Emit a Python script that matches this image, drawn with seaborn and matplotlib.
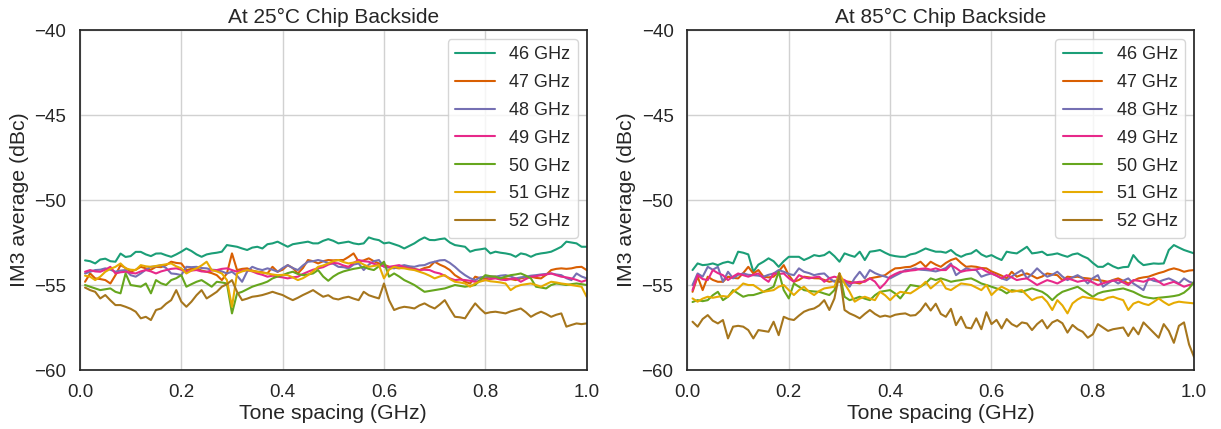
# IM3 average vs tone spacing, chip backside at 25 C and 85 C
import numpy as np
import pandas as pd
import matplotlib.pyplot as plt
import seaborn as sns

# tone spacing axis (GHz), 100 points
tone_spacing = np.round(np.arange(1, 101) * 0.01, 2)
freq_labels = ["46 GHz", "47 GHz", "48 GHz", "49 GHz", "50 GHz", "51 GHz", "52 GHz"]

# ---- 25 C ----
t25_46 = [-53.55, -53.6, -53.73, -53.5, -53.45, -53.6, -53.63, -53.15, -53.35, -53.3,
          -53.05, -53.05, -53.2, -53.3, -53.15, -53.14, -53.25, -53.34, -53.2, -53.04,
          -52.85, -53.0, -53.2, -53.34, -53.2, -53.14, -53.1, -53.04, -52.65, -52.7,
          -52.75, -52.85, -52.94, -52.8, -52.75, -52.85, -52.6, -52.55, -52.45, -52.6,
          -52.75, -52.6, -52.55, -52.5, -52.45, -52.55, -52.55, -52.4, -52.3, -52.4,
          -52.55, -52.5, -52.45, -52.55, -52.6, -52.55, -52.2, -52.3, -52.36, -52.55,
          -52.5, -52.6, -52.7, -52.85, -52.7, -52.55, -52.35, -52.2, -52.35, -52.36,
          -52.3, -52.26, -52.5, -52.65, -52.7, -52.75, -53.04, -52.94, -52.9, -52.85,
          -53.14, -53.04, -53.1, -53.14, -53.2, -53.34, -53.14, -53.2, -53.34, -53.2,
          -53.14, -53.1, -53.04, -52.9, -52.75, -52.45, -52.5, -52.55, -52.75, -52.75]
t25_47 = [-54.81, -54.32, -54.61, -54.65, -54.71, -54.91, -54.42, -53.83, -54.0, -54.22,
          -54.1, -53.93, -54.02, -54.1, -53.93, -53.95, -53.83, -53.63, -53.7, -53.73,
          -54.12, -54.05, -54.02, -54.15, -54.22, -54.3, -54.42, -54.71, -54.32, -53.14,
          -54.12, -54.05, -54.02, -54.15, -54.22, -54.25, -54.32, -53.93, -54.22, -54.1,
          -53.83, -54.0, -54.32, -54.0, -53.53, -53.6, -53.73, -53.6, -53.53, -53.55,
          -53.53, -53.53, -53.35, -53.14, -53.63, -53.55, -53.43, -53.6, -53.73, -53.8,
          -53.93, -53.98, -54.02, -53.95, -53.93, -54.05, -54.12, -54.0, -53.93, -53.63,
          -53.8, -53.93, -54.12, -54.42, -54.6, -54.81, -54.91, -54.51, -54.6, -54.61,
          -54.55, -54.51, -54.6, -54.61, -54.65, -54.71, -54.61, -54.55, -54.51, -54.58,
          -54.61, -54.4, -54.12, -54.05, -54.02, -54.05, -54.02, -53.95, -53.93, -54.12]
t25_48 = [-54.32, -54.22, -54.12, -54.1, -54.02, -54.1, -54.22, -54.15, -54.12, -54.42,
          -54.51, -54.32, -54.1, -53.93, -53.9, -53.83, -54.0, -54.32, -54.35, -54.42,
          -53.93, -53.95, -53.93, -54.0, -54.02, -54.1, -54.12, -54.2, -54.32, -54.22,
          -54.45, -54.81, -54.2, -53.93, -54.05, -54.12, -54.02, -54.1, -54.22, -54.0,
          -53.83, -54.0, -54.12, -53.85, -53.63, -53.6, -53.53, -53.6, -53.7, -53.75,
          -53.93, -53.95, -54.02, -53.8, -53.73, -54.12, -53.8, -53.6, -53.53, -53.93,
          -53.98, -54.02, -53.9, -53.83, -53.9, -53.93, -53.85, -53.83, -53.7, -53.63,
          -53.55, -53.53, -53.7, -53.93, -54.2, -54.42, -54.6, -54.71, -54.55, -54.51,
          -54.5, -54.51, -54.45, -54.42, -54.5, -54.61, -54.55, -54.51, -54.45, -54.42,
          -54.38, -54.35, -54.32, -54.38, -54.42, -54.6, -54.71, -54.32, -54.5, -54.61]
t25_49 = [-54.22, -54.12, -54.2, -54.22, -54.1, -53.93, -54.32, -54.25, -54.22, -54.28,
          -54.32, -54.2, -54.12, -54.2, -54.32, -54.2, -54.12, -54.05, -54.02, -54.1,
          -54.22, -54.15, -54.12, -54.2, -54.22, -54.15, -54.12, -54.05, -54.02, -54.12,
          -54.22, -54.15, -54.12, -54.2, -54.32, -54.4, -54.51, -54.45, -54.51, -54.55,
          -54.61, -54.55, -54.51, -54.35, -54.22, -54.1, -54.02, -53.95, -53.8, -53.7,
          -53.73, -53.85, -53.93, -53.7, -53.53, -53.6, -53.63, -53.75, -53.83, -53.9,
          -53.93, -53.88, -53.83, -53.95, -54.02, -54.08, -54.12, -54.1, -54.12, -54.25,
          -54.32, -54.45, -54.61, -54.71, -54.68, -54.71, -54.75, -54.81, -54.75, -54.71,
          -54.65, -54.61, -54.68, -54.71, -54.65, -54.61, -54.81, -54.65, -54.51, -54.48,
          -54.42, -54.38, -54.32, -54.42, -54.51, -54.55, -54.61, -54.7, -54.81, -54.71]
t25_50 = [-55.0, -55.1, -55.2, -55.3, -55.25, -55.2, -55.4, -55.49, -54.32, -55.0,
          -55.05, -55.1, -54.91, -55.49, -54.71, -54.9, -55.0, -54.71, -54.6, -54.42,
          -55.1, -54.95, -54.81, -54.71, -54.9, -55.1, -54.81, -54.85, -54.91, -56.67,
          -55.5, -55.4, -55.25, -55.1, -55.0, -54.91, -54.8, -54.61, -54.5, -54.42,
          -54.3, -54.22, -54.35, -54.42, -54.38, -54.32, -54.12, -54.5, -54.75, -54.5,
          -54.32, -54.2, -54.12, -54.05, -54.0, -53.93, -54.05, -54.12, -53.9, -53.63,
          -54.51, -54.32, -54.5, -54.71, -54.85, -55.0, -55.2, -55.4, -55.35, -55.3,
          -55.25, -55.2, -55.1, -55.0, -55.05, -55.1, -55.05, -55.0, -54.7, -54.42,
          -54.48, -54.51, -54.61, -54.5, -54.42, -54.38, -54.32, -54.45, -54.61, -55.1,
          -55.15, -55.2, -55.0, -54.91, -54.95, -55.0, -54.95, -54.91, -54.95, -55.0]
t25_51 = [-54.45, -54.51, -54.71, -54.51, -54.22, -54.05, -53.93, -53.73, -54.02, -54.1,
          -54.12, -53.83, -53.9, -53.93, -53.88, -53.83, -53.78, -53.73, -53.9, -54.02,
          -54.32, -54.15, -54.02, -53.85, -53.63, -54.12, -54.2, -54.32, -54.71, -56.28,
          -54.32, -54.2, -54.12, -54.18, -54.22, -54.28, -54.32, -54.38, -54.42, -54.4,
          -54.42, -54.55, -54.71, -54.6, -54.42, -54.2, -53.93, -53.85, -53.73, -53.6,
          -53.53, -53.65, -53.73, -53.68, -53.63, -53.8, -53.93, -53.88, -53.83, -54.61,
          -54.1, -53.93, -54.0, -54.02, -54.08, -54.12, -54.22, -54.32, -54.45, -54.61,
          -54.5, -54.42, -54.65, -54.81, -54.85, -54.91, -55.1, -54.91, -54.8, -54.71,
          -54.78, -54.81, -54.85, -54.91, -55.3, -55.1, -55.0, -54.95, -54.91, -55.0,
          -55.1, -54.95, -54.81, -54.85, -54.91, -54.95, -55.0, -55.05, -55.1, -55.69]
t25_52 = [-55.15, -55.3, -55.4, -55.79, -55.59, -55.9, -56.18, -56.18, -56.28, -56.4,
          -56.57, -56.96, -56.87, -57.06, -56.47, -56.38, -56.1, -55.89, -55.3, -55.98,
          -56.28, -55.98, -55.6, -55.3, -55.79, -55.6, -55.4, -55.1, -54.95, -54.71,
          -55.4, -55.89, -55.8, -55.69, -55.65, -55.59, -55.5, -55.4, -55.5, -55.59,
          -55.75, -55.89, -55.75, -55.59, -55.45, -55.3, -55.5, -55.69, -55.6, -55.79,
          -55.85, -55.75, -55.69, -55.8, -55.89, -55.4, -55.6, -55.7, -55.79, -54.91,
          -55.89, -56.47, -56.35, -56.28, -56.32, -56.38, -56.2, -56.08, -56.25, -56.38,
          -56.15, -55.89, -56.4, -56.87, -56.9, -56.96, -56.5, -56.08, -56.4, -56.67,
          -56.6, -56.57, -56.62, -56.67, -56.55, -56.47, -56.38, -56.6, -56.87, -56.7,
          -56.57, -56.7, -56.87, -56.75, -56.67, -57.45, -57.35, -57.26, -57.3, -57.26]

# ---- 85 C ----
t85_46 = [-54.12, -53.73, -53.83, -53.8, -53.73, -53.83, -53.7, -53.63, -53.73, -53.04,
          -53.1, -53.2, -54.22, -53.8, -53.63, -53.43, -53.6, -53.93, -53.6, -53.34,
          -53.34, -53.34, -53.53, -53.4, -53.24, -53.3, -53.24, -53.04, -53.3, -53.63,
          -53.14, -53.25, -53.34, -53.04, -53.53, -53.04, -53.0, -52.94, -53.1, -53.24,
          -53.3, -53.34, -53.34, -53.2, -53.14, -53.0, -52.85, -52.95, -53.04, -53.04,
          -53.1, -52.94, -53.2, -53.34, -53.2, -53.14, -52.94, -53.2, -53.34, -53.24,
          -53.4, -53.53, -53.04, -53.1, -53.14, -52.95, -52.75, -53.14, -53.1, -53.04,
          -53.24, -53.2, -53.14, -53.25, -53.34, -53.2, -53.14, -53.3, -53.43, -53.7,
          -53.93, -53.93, -53.73, -53.9, -54.02, -53.95, -53.93, -53.24, -53.6, -53.83,
          -53.78, -53.73, -53.75, -53.73, -52.94, -52.65, -52.8, -52.94, -53.04, -53.14]
t85_47 = [-55.4, -54.51, -55.3, -54.51, -54.7, -54.81, -54.81, -54.51, -54.58, -54.61,
          -54.3, -53.93, -54.32, -54.12, -54.51, -54.55, -54.51, -54.2, -53.83, -54.42,
          -54.81, -54.7, -54.51, -54.55, -54.6, -54.61, -54.7, -54.81, -54.75, -54.81,
          -54.78, -54.81, -54.85, -54.91, -54.75, -54.61, -54.55, -54.5, -54.42, -54.2,
          -54.02, -54.0, -53.95, -53.93, -53.8, -53.63, -53.93, -53.63, -53.8, -53.93,
          -53.7, -53.53, -53.43, -53.7, -53.93, -53.9, -53.93, -54.0, -54.02, -54.2,
          -54.32, -54.45, -54.61, -54.22, -54.51, -54.4, -54.32, -54.45, -54.61, -54.5,
          -54.32, -54.38, -54.42, -54.71, -54.51, -54.55, -54.51, -54.58, -54.61, -54.65,
          -54.71, -54.75, -54.81, -54.7, -54.61, -54.75, -54.91, -54.75, -54.61, -54.55,
          -54.51, -54.4, -54.3, -54.22, -54.1, -54.02, -54.1, -54.22, -54.15, -54.12]
t85_48 = [-55.0, -54.32, -54.51, -53.93, -54.1, -53.93, -54.81, -54.22, -54.61, -54.4,
          -54.32, -54.4, -54.42, -54.45, -54.51, -54.4, -54.32, -54.12, -54.22, -54.35,
          -54.42, -54.02, -54.22, -54.3, -54.42, -54.35, -54.32, -54.6, -54.81, -54.61,
          -54.8, -55.1, -54.6, -54.22, -54.61, -54.12, -54.3, -54.42, -54.5, -54.61,
          -54.45, -54.3, -54.12, -54.1, -54.02, -54.1, -54.12, -54.15, -54.2, -54.12,
          -54.0, -53.73, -54.42, -54.2, -54.02, -54.1, -54.12, -54.51, -54.4, -54.32,
          -54.45, -54.61, -54.71, -54.5, -54.3, -54.12, -54.61, -54.35, -54.02, -54.3,
          -54.51, -54.4, -54.22, -54.5, -54.71, -54.55, -54.42, -54.6, -54.91, -54.6,
          -54.42, -55.1, -54.9, -54.71, -54.91, -54.75, -54.61, -54.91, -55.1, -55.3,
          -54.61, -54.75, -54.81, -54.7, -54.61, -54.75, -54.91, -54.61, -54.8, -54.91]
t85_49 = [-55.3, -54.42, -54.65, -54.71, -54.12, -54.3, -54.42, -54.71, -54.5, -54.32,
          -54.42, -54.51, -54.4, -54.32, -54.6, -54.81, -54.32, -54.35, -54.32, -54.6,
          -54.81, -54.42, -54.55, -54.61, -54.55, -54.51, -54.81, -54.6, -54.51, -54.6,
          -54.71, -54.91, -54.85, -54.81, -54.81, -54.61, -54.8, -55.2, -54.9, -54.51,
          -54.35, -54.22, -54.2, -54.15, -54.12, -54.05, -54.02, -54.1, -54.02, -54.12,
          -54.12, -53.83, -54.0, -54.22, -54.15, -54.12, -54.08, -54.02, -54.2, -54.32,
          -54.45, -54.61, -54.42, -54.55, -54.71, -54.65, -54.61, -54.8, -55.0, -54.85,
          -54.71, -54.8, -54.91, -54.75, -54.61, -54.7, -54.81, -54.75, -54.71, -54.85,
          -55.0, -54.9, -54.81, -54.75, -54.71, -54.85, -55.0, -54.71, -54.75, -54.81,
          -54.7, -54.61, -54.8, -55.0, -54.9, -54.81, -54.95, -55.1, -55.0, -54.91]
t85_50 = [-56.0, -55.89, -55.95, -55.89, -55.6, -55.4, -55.89, -55.69, -55.3, -55.5,
          -55.69, -55.6, -55.59, -55.5, -55.4, -55.25, -55.1, -54.22, -55.3, -55.79,
          -54.91, -55.1, -55.3, -55.35, -55.38, -55.4, -55.5, -55.59, -55.3, -54.32,
          -55.69, -55.89, -55.8, -55.69, -55.8, -55.89, -55.6, -55.4, -55.35, -55.3,
          -55.5, -55.79, -55.4, -55.0, -55.05, -55.1, -54.9, -54.61, -54.71, -54.61,
          -54.7, -54.81, -54.75, -54.71, -54.65, -54.61, -54.75, -54.91, -55.0, -55.1,
          -55.2, -55.3, -55.49, -55.3, -55.35, -55.4, -55.3, -55.2, -55.3, -55.4,
          -55.6, -55.89, -55.6, -55.4, -55.3, -55.2, -55.1, -55.3, -55.5, -55.69,
          -55.5, -55.4, -55.35, -55.3, -55.25, -55.2, -55.3, -55.4, -55.55, -55.69,
          -55.75, -55.79, -55.75, -55.72, -55.69, -55.65, -55.59, -55.45, -55.2, -54.81]
t85_51 = [-55.79, -55.98, -55.8, -55.69, -55.75, -55.69, -55.65, -55.69, -55.4, -55.2,
          -54.91, -55.0, -55.0, -55.2, -55.4, -55.35, -55.3, -55.1, -55.0, -55.3,
          -55.59, -55.3, -55.1, -55.4, -55.59, -55.35, -55.2, -55.15, -55.1, -54.32,
          -54.91, -55.4, -55.98, -55.8, -55.69, -55.8, -55.89, -55.4, -55.6, -55.89,
          -55.6, -55.4, -55.45, -55.49, -55.3, -55.1, -54.81, -55.2, -54.95, -54.71,
          -55.2, -55.3, -55.1, -54.91, -54.95, -55.0, -55.15, -55.3, -55.0, -55.59,
          -55.3, -55.1, -55.25, -55.4, -55.35, -55.3, -55.6, -55.89, -55.75, -55.69,
          -56.0, -56.47, -55.89, -56.2, -56.67, -56.08, -55.85, -55.69, -55.75, -55.79,
          -55.85, -55.89, -55.75, -55.69, -55.8, -55.89, -56.47, -56.1, -55.98, -56.1,
          -56.18, -56.0, -55.79, -56.0, -56.18, -56.05, -55.98, -56.02, -56.05, -56.08]
t85_52 = [-57.16, -57.45, -57.0, -56.77, -57.1, -57.26, -57.06, -58.14, -57.45, -57.4,
          -57.45, -57.65, -58.14, -57.65, -57.7, -57.75, -57.16, -57.95, -56.87, -57.0,
          -57.06, -56.8, -56.57, -56.45, -56.38, -56.2, -55.89, -56.47, -55.79, -54.32,
          -56.47, -56.67, -56.8, -56.96, -56.7, -56.47, -56.7, -56.87, -56.8, -56.87,
          -56.75, -56.7, -56.67, -56.8, -56.77, -56.5, -56.08, -56.5, -56.1, -56.7,
          -56.87, -56.4, -57.36, -56.87, -57.5, -57.55, -56.96, -57.6, -56.6, -57.3,
          -57.05, -57.55, -57.0, -57.3, -57.45, -57.2, -57.26, -57.65, -57.3, -57.06,
          -57.55, -57.2, -57.06, -57.25, -57.8, -57.35, -57.6, -57.75, -58.1, -57.9,
          -57.3, -57.5, -57.7, -57.6, -57.55, -57.5, -58.0, -57.5, -57.9, -57.2,
          -57.5, -57.8, -58.1, -57.3, -57.7, -58.4, -57.4, -57.2, -58.5, -59.25]

series_25 = [t25_46, t25_47, t25_48, t25_49, t25_50, t25_51, t25_52]
series_85 = [t85_46, t85_47, t85_48, t85_49, t85_50, t85_51, t85_52]


def to_long(series):
    frames = []
    for label, vals in zip(freq_labels, series):
        frames.append(pd.DataFrame({"tone": tone_spacing, "im3": vals, "freq": label}))
    return pd.concat(frames, ignore_index=True)


sns.set_theme(style="whitegrid", rc={"axes.edgecolor": ".15", "axes.linewidth": 1.25,
                                     "grid.color": ".82"})
plt.rcParams["font.family"] = ["Liberation Sans", "DejaVu Sans"]

fig, axes = plt.subplots(1, 2, figsize=(12.21, 4.29), dpi=100)
fig.subplots_adjust(left=0.0655, right=0.978, bottom=0.1375, top=0.930, wspace=0.199)

panels = [("At 25°C Chip Backside", series_25), ("At 85°C Chip Backside", series_85)]
for ax, (title, series) in zip(axes, panels):
    df = to_long(series)
    sns.lineplot(data=df, x="tone", y="im3", hue="freq", palette="Dark2",
                 linewidth=1.5, ax=ax)
    ax.set_xlim(0, 1)
    ax.set_ylim(-60, -40)
    ax.set_xticks([0.0, 0.2, 0.4, 0.6, 0.8, 1.0])
    ax.set_yticks([-60, -55, -50, -45, -40])
    ax.tick_params(labelsize=13.5, pad=4)
    ax.set_title(title, fontsize=15, pad=5)
    ax.set_xlabel("Tone spacing (GHz)", fontsize=15.3, labelpad=2)
    ax.set_ylabel("IM3 average (dBc)", fontsize=15.3, labelpad=4)
    sns.move_legend(ax, "upper right", title=None, fontsize=13, labelspacing=0.6,
                    handlelength=2.2, borderaxespad=0.5)

plt.savefig("out.png", dpi=100)
